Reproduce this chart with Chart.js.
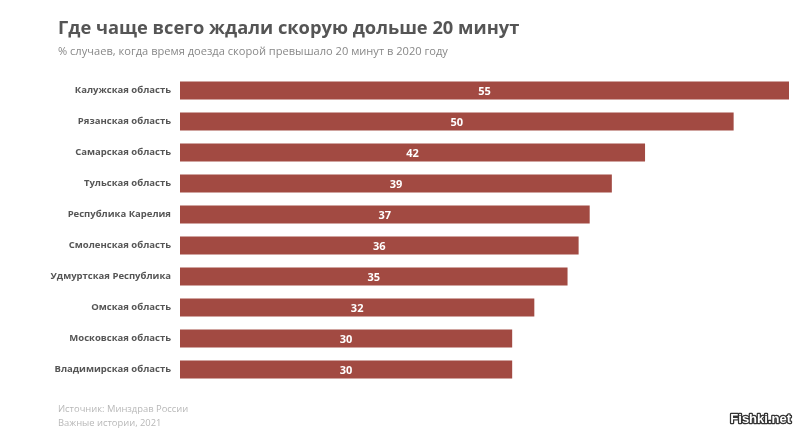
<!DOCTYPE html>
<html>
<head>
<meta charset="utf-8">
<script src="https://cdn.jsdelivr.net/npm/chart.js@4/dist/chart.umd.min.js"></script>
<style>
html,body{margin:0;padding:0;background:#fff;}
#wrap{width:800px;height:431px;position:relative;}
</style>
</head>
<body>
<div id="wrap"><canvas id="c" width="800" height="431"></canvas></div>
<script>
const titleText = "Где чаще всего ждали скорую дольше 20 минут";
const subtitleText = "% случаев, когда время доезда скорой превышало 20 минут в 2020 году";
const footerLines = ["Источник: Минздрав России", "Важные истории, 2021"];
const categories = ["Калужская область","Рязанская область","Самарская область","Тульская область","Республика Карелия","Смоленская область","Удмуртская Республика","Омская область","Московская область","Владимирская область"];
const values = [55,50,42,39,37,36,35,32,30,30];

const textPlugin = {
  id: 'texts',
  afterDraw(chart) {
    const ctx = chart.ctx;
    ctx.save();
    ctx.textBaseline = 'alphabetic';
    ctx.textAlign = 'left';
    ctx.fillStyle = '#555555';
    ctx.font = 'bold 18.3px "Open Sans"';
    ctx.fillText(titleText, 58, 34);
    ctx.fillStyle = '#888888';
    ctx.font = '11.1px "Open Sans"';
    ctx.fillText(subtitleText, 58, 55);
    ctx.fillStyle = '#b8b8b8';
    ctx.font = '9.4px "Open Sans"';
    ctx.fillText(footerLines[0], 58, 412);
    ctx.fillText(footerLines[1], 58, 426);
    // watermark
    ctx.font = 'bold 13px "Liberation Sans"';
    ctx.textAlign = 'right';
    ctx.lineWidth = 2.5;
    ctx.strokeStyle = '#333';
    ctx.lineJoin = 'round';
    ctx.strokeText('Fishki.net', 791, 423);
    ctx.fillStyle = '#fff';
    ctx.fillText('Fishki.net', 791, 423);
    ctx.restore();
  }
};

const labelPlugin = {
  id: 'barLabels',
  afterDatasetsDraw(chart) {
    const ctx = chart.ctx;
    const meta = chart.getDatasetMeta(0);
    ctx.save();
    ctx.fillStyle = '#ffffff';
    ctx.font = 'bold 11px "Open Sans"';
    ctx.textAlign = 'center';
    ctx.textBaseline = 'middle';
    meta.data.forEach((bar, i) => {
      const cx = (bar.x + bar.base) / 2;
      ctx.fillText(String(chart.data.datasets[0].data[i]), cx, bar.y + 1);
    });
    ctx.restore();
  }
};

new Chart(document.getElementById('c'), {
  type: 'bar',
  data: {
    labels: categories,
    datasets: [{
      data: values,
      backgroundColor: '#a24a42',
      borderWidth: 0,
      barPercentage: 0.6,
      categoryPercentage: 0.97
    }]
  },
  options: {
    indexAxis: 'y',
    responsive: false,
    animation: false,
    events: [],
    layout: { padding: { left: 0, right: 11, top: 75, bottom: 46 } },
    plugins: { legend: { display: false }, tooltip: { enabled: false } },
    scales: {
      x: { display: false, min: 0, max: 55 },
      y: {
        grid: { display: false, drawTicks: false },
        border: { display: false },
        afterFit(scale) { scale.width = 180; },
        ticks: {
          padding: 9,
          color: '#555555',
          font: { family: '"Open Sans"', weight: 'bold', size: 9.5 }
        }
      }
    }
  },
  plugins: [textPlugin, labelPlugin]
});
</script>
</body>
</html>
